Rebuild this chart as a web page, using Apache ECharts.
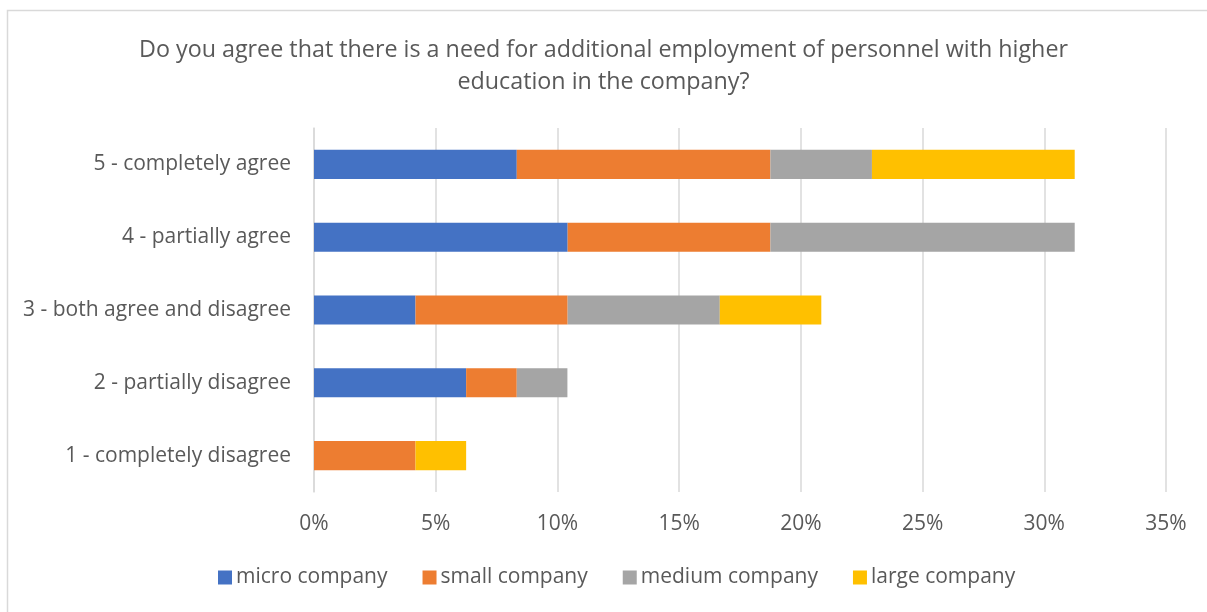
<!DOCTYPE html>
<html>
<head>
<meta charset="utf-8">
<script src="https://cdn.jsdelivr.net/npm/echarts@6/dist/echarts.min.js"></script>
<style>
  html, body { margin: 0; padding: 0; background: #fff; }
  #chart { width: 1207px; height: 612px; }
</style>
</head>
<body>
<div id="chart"></div>
<script>
// Answer categories (bottom to top on the y axis)
const categories = [
  '1 - completely disagree',
  '2 - partially disagree',
  '3 - both agree and disagree',
  '4 - partially agree',
  '5 - completely agree'
];

// Share of respondents (%) by company size
const microCompany  = [0,    6.25, 4.17, 10.42, 8.33];
const smallCompany  = [4.17, 2.08, 6.25, 8.33, 10.42];
const mediumCompany = [0,    2.08, 6.25, 12.5, 4.17];
const largeCompany  = [2.08, 0,    4.17, 0,    8.33];

const seriesNames = ['micro company', 'small company', 'medium company', 'large company'];
const seriesColors = ['#4472C4', '#ED7D31', '#A5A5A5', '#FFC000'];
const seriesData = [microCompany, smallCompany, mediumCompany, largeCompany];

const FONT = '"Open Sans", sans-serif';
const TEXT = '#595959';

const chart = echarts.init(document.getElementById('chart'), null, { renderer: 'canvas' });

chart.setOption({
  backgroundColor: '#fff',
  animation: false,
  graphic: [{
    type: 'rect',
    shape: { x: 7.5, y: 10.5, width: 1220, height: 620 },
    style: { fill: 'none', stroke: '#D9D9D9', lineWidth: 1.5 },
    silent: true
  }],
  title: {
    text: 'Do you agree that there is a need for additional employment of personnel with higher\neducation in the company?',
    left: 'center',
    top: 29,
    textStyle: {
      fontFamily: FONT,
      fontSize: 23.3,
      fontWeight: 'normal',
      color: TEXT,
      lineHeight: 32,
      align: 'center'
    }
  },
  legend: {
    bottom: 19,
    left: 213,
    itemWidth: 14,
    itemHeight: 14,
    itemGap: 35,
    icon: 'rect',
    textStyle: { fontFamily: FONT, fontSize: 21, color: TEXT, padding: [0, 0, 0, -1] },
    data: seriesNames
  },
  grid: { left: 314, right: 41, top: 128, bottom: 120, containLabel: false },
  xAxis: {
    type: 'value',
    min: 0,
    max: 35,
    interval: 5,
    axisLine: { show: false },
    axisTick: { show: false },
    splitLine: { lineStyle: { color: '#D9D9D9', width: 1.5 } },
    axisLabel: {
      formatter: '{value}%',
      fontFamily: FONT,
      fontSize: 21,
      color: TEXT,
      margin: 22
    }
  },
  yAxis: {
    type: 'category',
    data: categories,
    axisLine: { show: true, lineStyle: { color: '#D9D9D9', width: 1.5 } },
    axisTick: { show: false },
    axisLabel: {
      fontFamily: FONT,
      fontSize: 21,
      color: TEXT,
      margin: 23
    }
  },
  series: seriesNames.map((name, i) => ({
    name,
    type: 'bar',
    stack: 'total',
    barCategoryGap: '60%',
    itemStyle: { color: seriesColors[i] },
    data: seriesData[i]
  }))
});
</script>
</body>
</html>
